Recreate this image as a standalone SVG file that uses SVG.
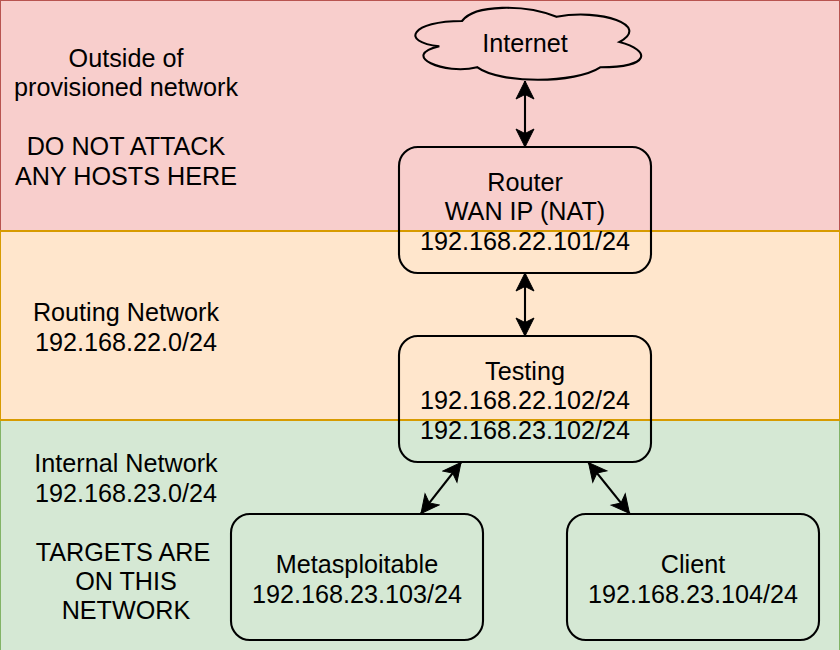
<svg xmlns="http://www.w3.org/2000/svg" width="840" height="650" viewBox="0 0 840 650">
<style>
text{font-family:"Liberation Sans",Arial,sans-serif;font-size:25.2px;fill:#000;text-anchor:middle}
.n{fill:none;stroke:#000;stroke-width:2.1}
.c{fill:none;stroke:#000;stroke-width:2.1;marker-start:url(#a);marker-end:url(#a)}
</style>
<defs>
<marker id="a" markerUnits="userSpaceOnUse" markerWidth="24" markerHeight="24" refX="19" refY="12" orient="auto-start-reverse" viewBox="0 0 24 24">
<path d="M19 12L1 3L5.500 12L1 21Z" fill="#000" stroke="#000" stroke-width="1"/>
</marker>
</defs>
<g id="zone-outside">
<rect x="0" y="0" width="840" height="231" fill="#f8cecc" stroke="#b85450" stroke-width="2"/>
<text x="126" y="67">Outside of</text>
<text x="126" y="96">provisioned network</text>
<text x="126" y="155">DO NOT ATTACK</text>
<text x="126" y="185">ANY HOSTS HERE</text>
</g>
<g id="zone-internal">
<rect x="0" y="420" width="840" height="231" fill="#d5e8d4" stroke="#82b366" stroke-width="2"/>
<text x="126" y="472">Internal Network</text>
<text x="126" y="502">192.168.23.0/24</text>
<text x="123" y="561">TARGETS ARE</text>
<text x="126" y="590">ON THIS</text>
<text x="126" y="619">NETWORK</text>
</g>
<g id="zone-routing">
<rect x="0" y="231" width="840" height="189" fill="#ffe6cc" stroke="#d79b00" stroke-width="2"/>
<text x="126" y="321">Routing Network</text>
<text x="126" y="351">192.168.22.0/24</text>
</g>
<g id="connectors">
<path class="c" d="M525 81V147"/>
<path class="c" d="M525 273V336"/>
<path class="c" d="M461 462.500L421 513.500"/>
<path class="c" d="M588.500 462.500L629.500 513.500"/>
</g>
<g id="internet">
<path class="n" d="M462 21C411.600 21 399 42 439.300 46.200C399 55.440 444.400 75.600 477.100 67.200C499.800 84 575.400 84 600.600 67.200C651 67.200 651 50.400 619.500 42C651 25.200 600.600 8.400 556.500 16.800C525 4.200 474.600 4.200 462 21Z"/>
<text x="525" y="52">Internet</text>
</g>
<g id="router">
<rect class="n" x="399" y="147" width="252" height="126" rx="18.900"/>
<text x="525" y="191">Router</text>
<text x="525" y="220">WAN IP (NAT)</text>
<text x="525" y="250">192.168.22.101/24</text>
</g>
<g id="testing">
<rect class="n" x="399" y="336" width="252" height="126" rx="18.900"/>
<text x="525" y="380">Testing</text>
<text x="525" y="409">192.168.22.102/24</text>
<text x="525" y="439">192.168.23.102/24</text>
</g>
<g id="metasploitable">
<rect class="n" x="231" y="514" width="252" height="126" rx="18.900"/>
<text x="357" y="573">Metasploitable</text>
<text x="357" y="603">192.168.23.103/24</text>
</g>
<g id="client">
<rect class="n" x="567" y="514" width="252" height="126" rx="18.900"/>
<text x="693" y="573">Client</text>
<text x="693" y="603">192.168.23.104/24</text>
</g>
</svg>
